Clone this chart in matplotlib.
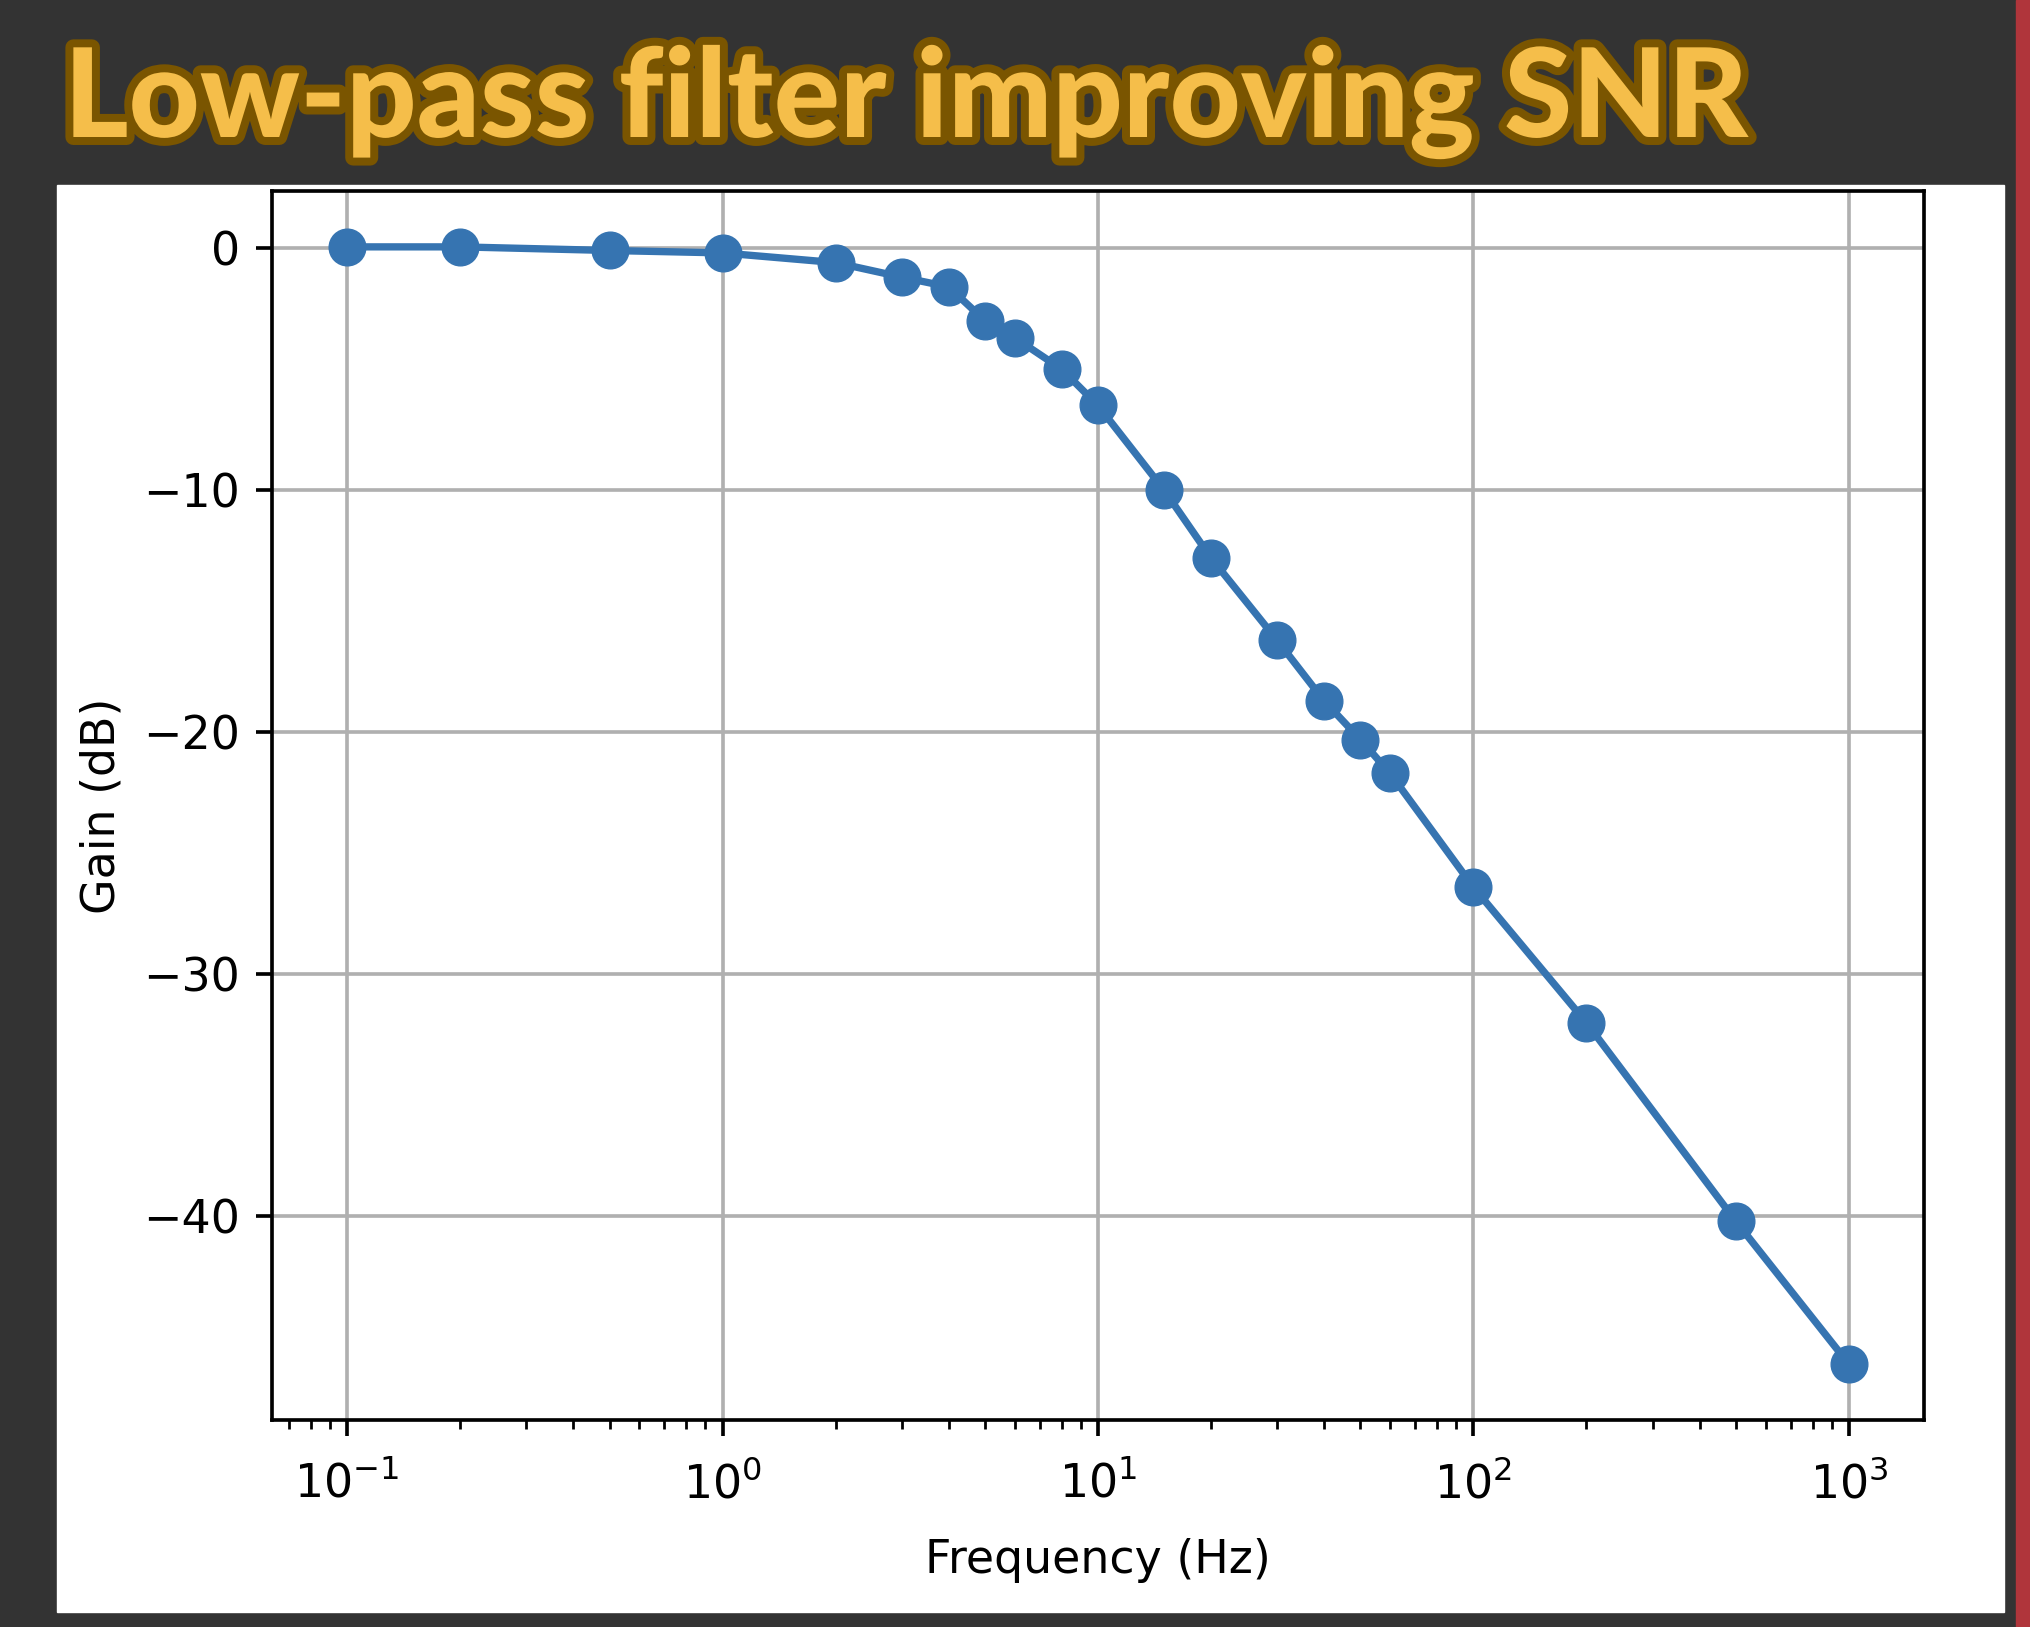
"""
Low-pass filter frequency response (gain vs frequency), log x axis.
"""

import matplotlib.pyplot as plt
import matplotlib.patheffects as pe
from matplotlib.patches import Rectangle


### Data
freq = [0.1, 0.2, 0.5, 1, 2, 3, 4, 5, 6, 8, 10, 15, 20, 30, 40, 50, 60,
        100, 200, 500, 1000]
gain_db = [0.05, 0.05, -0.1, -0.2, -0.6, -1.2, -1.6, -3.0, -3.7, -5.0, -6.5,
           -10.0, -12.8, -16.2, -18.7, -20.3, -21.7, -26.4, -32.0, -40.2, -46.1]

title = 'Low-pass filter improving SNR'

### Figure / layout (pixels of the 2030x1627 output)
W, H = 2030, 1627
S = 3.3  # scale of the original small matplotlib chart

fig = plt.figure(figsize=(W / 100, H / 100), dpi=100, facecolor='#333333')

# white card behind the chart
fig.patches.append(Rectangle((57 / W, 1 - 1612 / H), (2004 - 57) / W,
                             (1612 - 185) / H, transform=fig.transFigure,
                             color='white', zorder=-10))
# red strip at the right edge
fig.patches.append(Rectangle((2016 / W, 0), (W - 2016) / W, 1,
                             transform=fig.transFigure, color='#b0353b',
                             zorder=-10))

ax = fig.add_axes([272 / W, 1 - 1420 / H, (1924 - 272) / W, (1420 - 191) / H])

ax.semilogx(freq, gain_db, marker='o', c='#3674b1', lw=1.6 * S, ms=8 * S)

ax.grid(True, color='#b0b0b0', lw=0.8 * S)
ax.set_axisbelow(True)

ax.tick_params(which='major', labelsize=10 * S, length=3.5 * S,
               width=0.8 * S, pad=3.5 * S)
ax.tick_params(axis='x', which='major', pad=18.5)
ax.tick_params(which='minor', length=2 * S, width=0.6 * S)
for sp in ax.spines.values():
    sp.set_linewidth(0.8 * S)

ax.set_xlabel('Frequency (Hz)', fontsize=10 * S, labelpad=22)
ax.set_ylabel('Gain (dB)', fontsize=10 * S, labelpad=4 * S)

### Title with outline
fig.text(64 / W, 1 - 137 / H, title, fontsize=89, family='Lato',
         weight='black', color='#f5be4a', va='baseline', ha='left',
         path_effects=[pe.withStroke(linewidth=11.5, foreground='#7a5500')])

fig.savefig('out.png', dpi=100, facecolor=fig.get_facecolor())
